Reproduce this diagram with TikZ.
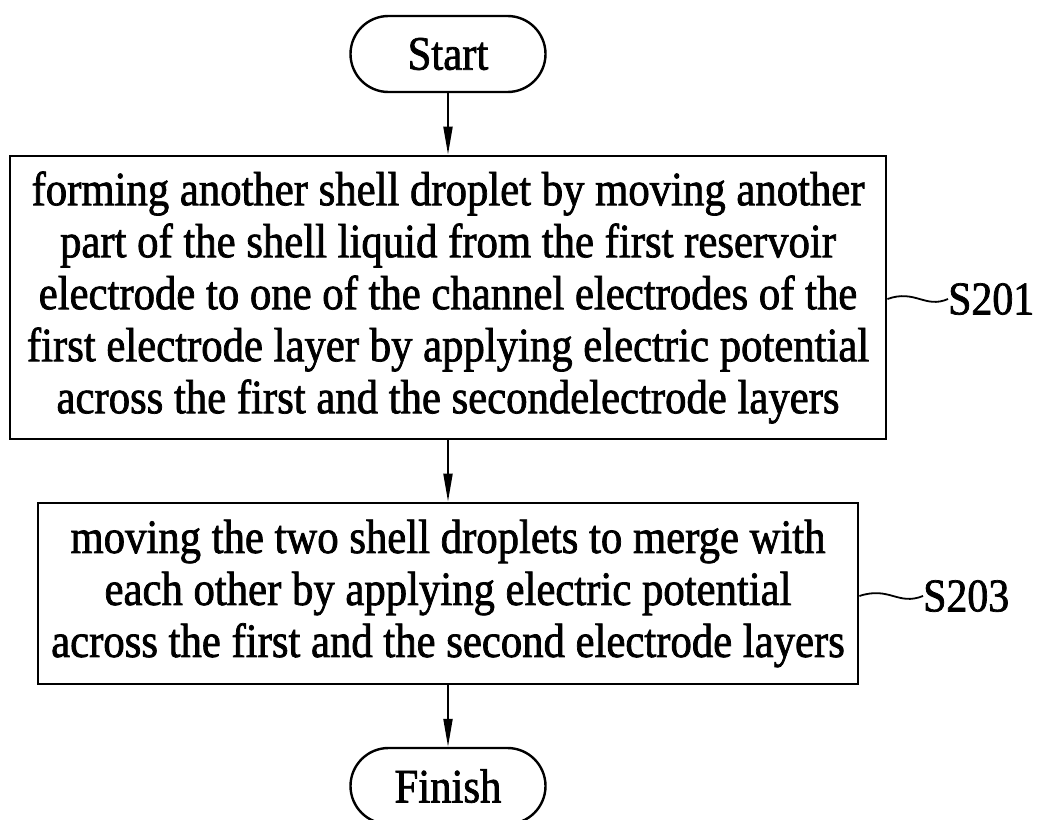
\documentclass[tikz,border=0pt]{standalone}
\usepackage{fontspec}
\setmainfont{Liberation Serif}[FakeStretch=0.89,FakeBold=1.5]
\usetikzlibrary{arrows.meta}
\tikzset{
  term/.style={draw,line width=2.4pt,rounded corners=38pt,minimum width=195pt,minimum height=76pt,inner sep=0pt,font=\fontsize{48}{52}\selectfont},
  stepbox/.style={draw,line width=2.8pt,inner sep=0pt,align=center,font=\fontsize{48}{52}\selectfont},
  arr/.style={line width=2pt,-{Triangle[length=28pt,width=9pt]}},
  wave/.style={line width=1.8pt},
  lab/.style={inner sep=0pt,anchor=west,font=\fontsize{47}{52}\selectfont}
}
\begin{document}
\begin{tikzpicture}[x=1pt,y=-1pt]
\useasboundingbox (0,0) rectangle (1038,819);
\node[term] (start) at (448,54) {Start};
\node[stepbox,minimum width=876pt,minimum height=283pt] (b1) at (448,297.5)
 {forming another shell droplet by moving another\\
  part of the shell liquid from the first reservoir\\
  electrode to one of the channel electrodes of the\\
  first electrode layer by applying electric potential\\
  across the first and the secondelectrode layers};
\node[stepbox,minimum width=820pt,minimum height=181pt] (b2) at (448,593.5)
 {moving the two shell droplets to merge with\\
  each other by applying electric potential\\
  across the first and the second electrode layers};
\node[term] (finish) at (448,786) {Finish};
\node[lab] (l1) at (948,299) {S201};
\node[lab] (l2) at (923,596) {S203};
\draw[arr] (start.south) -- (b1.north);
\draw[arr] (b1.south) -- (b2.north);
\draw[arr] (b2.south) -- (finish.north);
\draw[wave] (b1.east |- l1.west) .. controls +(28,-10) and +(-23,10) .. (l1.west);
\draw[wave] (b2.east |- l2.west) .. controls +(30,-10) and +(-25,10) .. (l2.west);
\end{tikzpicture}
\end{document}
